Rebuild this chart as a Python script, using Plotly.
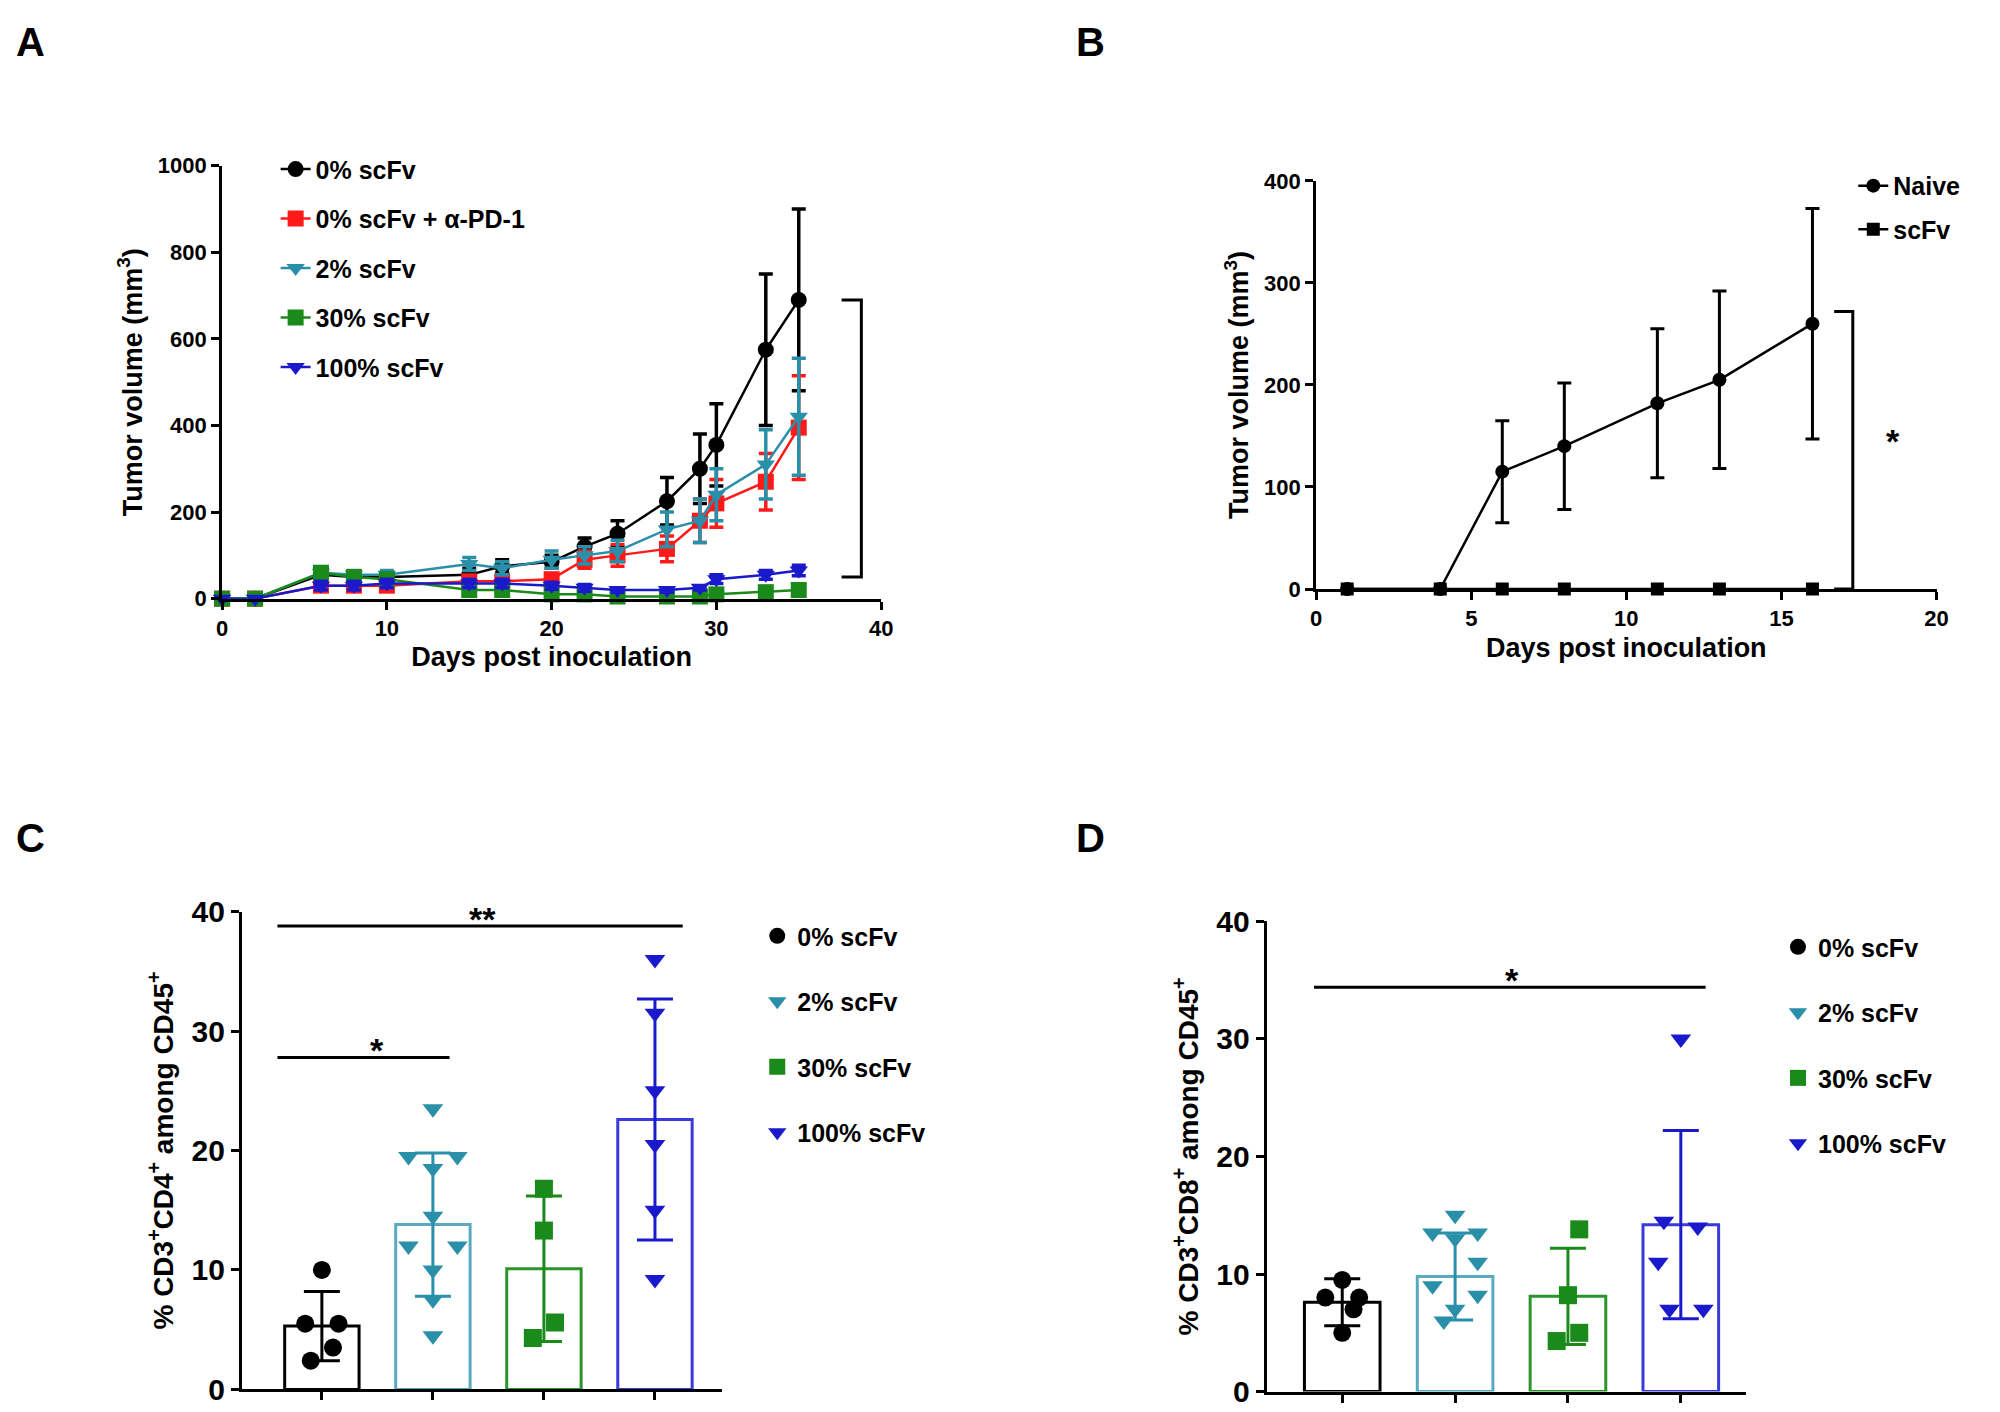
import plotly.graph_objects as go

# ---- panel A data ----
days_a = [0, 2, 6, 8, 10, 15, 17, 20, 22, 24, 27, 29, 30, 33, 35]
a_names = ["0% scFv", "0% scFv + α-PD-1", "2% scFv", "30% scFv", "100% scFv"]
a_vals = [
    [0, 0, 55, 50, 50, 55, 75, 85, 120, 150, 225, 300, 355, 575, 690],
    [0, 0, 30, 30, 30, 40, 40, 45, 90, 100, 115, 180, 220, 270, 395],
    [0, 0, 60, 55, 55, 80, 70, 90, 100, 110, 160, 180, 240, 310, 420],
    [0, 0, 60, 50, 45, 20, 20, 10, 10, 5, 5, 5, 10, 15, 20],
    [0, 0, 30, 30, 35, 35, 35, 30, 25, 20, 20, 25, 45, 55, 65],
]
a_errs = [
    [0, 0, 10, 10, 10, 15, 15, 15, 20, 30, 55, 80, 95, 175, 210],
    [0, 0, 5, 5, 5, 5, 5, 10, 20, 25, 30, 50, 55, 65, 120],
    [0, 0, 10, 10, 10, 15, 15, 20, 20, 25, 40, 50, 60, 80, 135],
    [0, 0, 10, 10, 8, 5, 5, 5, 5, 3, 3, 3, 5, 5, 8],
    [0, 0, 10, 10, 10, 10, 10, 8, 8, 5, 5, 5, 10, 10, 12],
]
a_colors = ["black", "#ff1a1a", "#2a8fa8", "#1a8a1a", "#1a1acc"]
a_symbols = ["circle", "square", "triangle-down", "square", "triangle-down"]

# ---- panel B data ----
days_b = [1, 4, 6, 8, 11, 13, 16]
naive_vals = [0, 0, 115, 140, 182, 205, 260]
naive_errs = [0, 0, 50, 62, 73, 87, 113]
scfv_vals = [0, 0, 0, 0, 0, 0, 0]

# ---- panels C / D data ----
groups = ["0% scFv", "2% scFv", "30% scFv", "100% scFv"]
g_colors = ["black", "#2a8fa8", "#1a8a1a", "#1a1acc"]
g_bar_colors = ["black", "#5aaabf", "#2a962a", "#3a3ad8"]
g_symbols = ["circle", "triangle-down", "square", "triangle-down"]

c_points = [
    [10, 5.5, 5.5, 3.5, 2.4],
    [23.5, 19.5, 19.5, 18.5, 14.5, 12, 12, 10, 7.5, 4.5],
    [16.8, 13.3, 5.6, 4.3],
    [36, 31.5, 25, 20.5, 15, 9.2],
]
c_jitter = [
    [0, -0.15, 0.15, 0.1, -0.1],
    [0, -0.22, 0.22, 0, 0, -0.22, 0.22, 0, 0, 0],
    [0, 0, 0.1, -0.1],
    [0, 0, 0, 0, 0, 0],
]
c_mean = [5.3, 13.8, 10.1, 22.6]
c_sd = [2.9, 6.0, 6.1, 10.1]

d_points = [
    [9.5, 8, 8, 7, 5],
    [15, 13.5, 13.5, 13, 11, 9, 8.2, 7, 6],
    [13.8, 8.2, 5, 4.3],
    [30, 14.5, 14, 11, 7, 7],
]
d_jitter = [
    [0, -0.15, 0.15, 0.1, 0],
    [0, -0.2, 0.2, 0, 0.2, -0.2, 0.2, 0, -0.1],
    [0.1, 0, 0.1, -0.1],
    [0, -0.15, 0.15, -0.2, -0.1, 0.2],
]
d_mean = [7.6, 9.8, 8.1, 14.2]
d_sd = [2.0, 3.7, 4.1, 8.0]

FONT = "Liberation Sans"
fig = go.Figure()

# panel A
for name, vals, errs, col, sym in zip(a_names, a_vals, a_errs, a_colors, a_symbols):
    fig.add_trace(go.Scatter(
        x=days_a, y=vals, name=name, mode="lines+markers", xaxis="x", yaxis="y",
        line=dict(color=col, width=2.5), marker=dict(color=col, symbol=sym, size=16),
        error_y=dict(type="data", array=errs, color=col, thickness=3.5, width=7),
        cliponaxis=False, legend="legend", legendgroup=name))

# panel B
fig.add_trace(go.Scatter(
    x=days_b, y=naive_vals, name="Naive", mode="lines+markers", xaxis="x2", yaxis="y2",
    line=dict(color="black", width=2.5), marker=dict(color="black", symbol="circle", size=14),
    error_y=dict(type="data", array=naive_errs, color="black", thickness=3, width=7),
    cliponaxis=False, legend="legend2", legendgroup="naive"))
fig.add_trace(go.Scatter(
    x=days_b, y=scfv_vals, name="scFv", mode="lines+markers", xaxis="x2", yaxis="y2",
    line=dict(color="black", width=2.5), marker=dict(color="black", symbol="square", size=13),
    cliponaxis=False, legend="legend2", legendgroup="scfv"))


def add_dot_panel(points, jitter, mean, sd, xa, ya, leg):
    for i, g in enumerate(groups):
        fig.add_trace(go.Bar(
            x=[i + 1], y=[mean[i]], width=0.67, xaxis=xa, yaxis=ya, showlegend=False,
            marker=dict(color="rgba(0,0,0,0)", line=dict(color=g_bar_colors[i], width=3))))
        fig.add_trace(go.Scatter(
            x=[i + 1 + j for j in jitter[i]], y=points[i], name=g, mode="markers",
            xaxis=xa, yaxis=ya, cliponaxis=False, legend=leg, legendgroup=g,
            marker=dict(color=g_colors[i], symbol=g_symbols[i], size=18)))
        fig.add_trace(go.Scatter(
            x=[i + 1], y=[mean[i]], mode="markers", xaxis=xa, yaxis=ya, showlegend=False,
            marker=dict(size=1, color="rgba(0,0,0,0)"),
            error_y=dict(type="data", array=[sd[i]], color=g_colors[i], thickness=3, width=18)))


add_dot_panel(c_points, c_jitter, c_mean, c_sd, "x3", "y3", "legend3")
add_dot_panel(d_points, d_jitter, d_mean, d_sd, "x4", "y4", "legend4")

ax = dict(showline=True, linecolor="black", linewidth=3, ticks="outside", tickwidth=3,
          ticklen=8, tickcolor="black", showgrid=False, zeroline=False,
          tickfont=dict(family=FONT, size=22, color="black", weight="bold"))
tf = dict(family=FONT, size=27, color="black")
big_tick = dict(family=FONT, size=30, color="black", weight="bold")
lf = dict(family=FONT, size=25, color="black", weight="bold")

fig.update_layout(
    width=2000, height=1412, paper_bgcolor="white", plot_bgcolor="white",
    margin=dict(l=0, r=0, t=0, b=0), barmode="overlay",
    font=dict(family=FONT, color="black"),
    xaxis=dict(ax, domain=[0.105, 0.4375], range=[0, 40], dtick=10, anchor="y",
               title=dict(text="<b>Days post inoculation</b>", font=tf, standoff=8)),
    yaxis=dict(ax, domain=[0.584, 0.898], range=[0, 1000], dtick=200, anchor="x",
               title=dict(text="<b>Tumor volume (mm<sup>3</sup>)</b>", font=tf, standoff=8)),
    xaxis2=dict(ax, domain=[0.657, 0.970], range=[0, 20], dtick=5, anchor="y2",
                title=dict(text="<b>Days post inoculation</b>", font=tf, standoff=8)),
    yaxis2=dict(ax, domain=[0.591, 0.887], range=[0, 400], dtick=100, anchor="x2",
                title=dict(text="<b>Tumor volume (mm<sup>3</sup>)</b>", font=tf, standoff=8)),
    xaxis3=dict(ax, domain=[0.115, 0.357], range=[0.28, 4.6], tickvals=[1, 2, 3, 4],
                ticktext=["", "", "", ""], anchor="y3"),
    yaxis3=dict(ax, domain=[0.0106, 0.357], range=[0, 40], dtick=10, anchor="x3",
                tickfont=big_tick,
                title=dict(text="<b>% CD3<sup>+</sup>CD4<sup>+</sup> among CD45<sup>+</sup></b>",
                           font=dict(family=FONT, size=28, color="black"), standoff=10)),
    xaxis4=dict(ax, domain=[0.632, 0.874], range=[0.33, 4.58], tickvals=[1, 2, 3, 4],
                ticktext=["", "", "", ""], anchor="y4"),
    yaxis4=dict(ax, domain=[0.009, 0.350], range=[0, 40], dtick=10, anchor="x4",
                tickfont=big_tick,
                title=dict(text="<b>% CD3<sup>+</sup>CD8<sup>+</sup> among CD45<sup>+</sup></b>",
                           font=dict(family=FONT, size=28, color="black"), standoff=10)),
    legend=dict(x=0.132, y=0.912, xanchor="left", yanchor="top", tracegroupgap=14,
                font=lf, bgcolor="rgba(0,0,0,0)"),
    legend2=dict(x=0.928, y=0.9, xanchor="left", yanchor="top", tracegroupgap=8,
                 font=lf, bgcolor="rgba(0,0,0,0)"),
    legend3=dict(x=0.375, y=0.356, xanchor="left", yanchor="top", tracegroupgap=30,
                 font=lf, bgcolor="rgba(0,0,0,0)"),
    legend4=dict(x=0.89, y=0.348, xanchor="left", yanchor="top", tracegroupgap=30,
                 font=lf, bgcolor="rgba(0,0,0,0)"),
)

line = dict(color="black", width=3)
# significance brackets / lines
fig.add_shape(type="path", xref="x", yref="y", path="M 37.6 690 L 38.8 690 L 38.8 50 L 37.6 50", line=line)
fig.add_shape(type="path", xref="x2", yref="y2", path="M 16.7 272 L 17.3 272 L 17.3 0 L 16.7 0", line=line)
fig.add_shape(type="line", xref="x3", yref="y3", x0=0.6, x1=4.25, y0=38.8, y1=38.8, line=line)
fig.add_shape(type="line", xref="x3", yref="y3", x0=0.6, x1=2.15, y0=27.8, y1=27.8, line=line)
fig.add_shape(type="line", xref="x4", yref="y4", x0=0.75, x1=4.22, y0=34.4, y1=34.4, line=line)

sf = dict(family=FONT, size=34, color="black", weight="bold")
for xr, yr, x, y, t in [("x", "y", 40.2, 365, "*"), ("x", "y", 40.9, 295, "**"),
                        ("x2", "y2", 18.6, 145, "*"), ("x3", "y3", 2.45, 39.4, "**"),
                        ("x3", "y3", 1.5, 28.4, "*"), ("x4", "y4", 2.5, 35.0, "*")]:
    fig.add_annotation(xref=xr, yref=yr, x=x, y=y, text=t, showarrow=False, font=sf)

pf = dict(family=FONT, size=40, color="black")
for x, y, t in [(0.0, 1.005, "A"), (0.535, 1.005, "B"), (0.0, 0.428, "C"), (0.535, 0.428, "D")]:
    fig.add_annotation(xref="paper", yref="paper", x=x, y=y, xanchor="left", yanchor="top",
                       text=f"<b>{t}</b>", showarrow=False, font=pf)

fig.write_html("out.html")
